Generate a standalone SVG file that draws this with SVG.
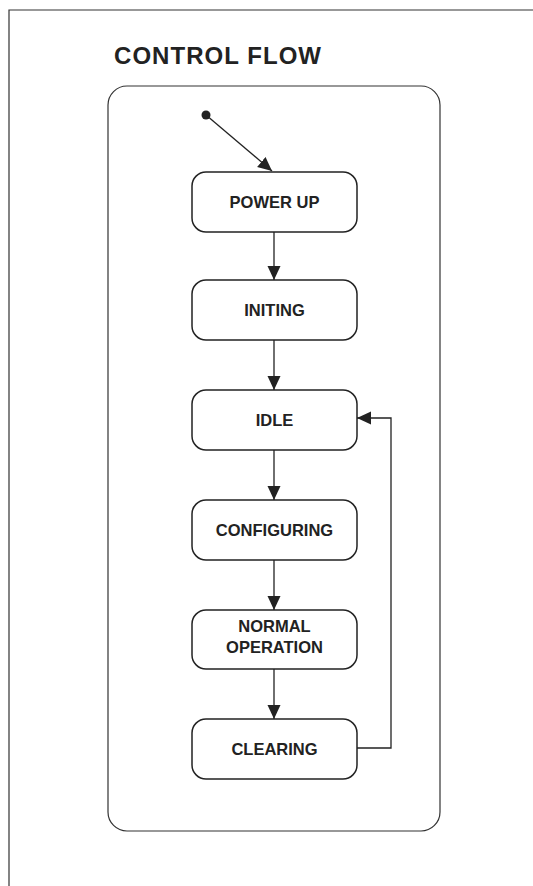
<svg xmlns="http://www.w3.org/2000/svg" width="533" height="886" viewBox="0 0 533 886">
<style>
.frame{fill:none;stroke:#333;stroke-width:1.2}
.box{fill:#fff;stroke:#222;stroke-width:1.5}
.lbl{font-family:"Liberation Sans",Arial,sans-serif;font-weight:bold;font-size:16.5px;fill:#222;text-anchor:middle}
.title{font-family:"Liberation Sans",Arial,sans-serif;font-weight:bold;font-size:24px;fill:#222}
.edge{fill:none;stroke:#222;stroke-width:1.3}
</style>
<defs>
<marker id="ah" markerUnits="userSpaceOnUse" markerWidth="15" markerHeight="14" viewBox="0 0 15 14" refX="14" refY="7" orient="auto">
<path d="M0,0.5 L14,7 L0,13.5 Z" fill="#222"/>
</marker>
</defs>
<rect x="0" y="0" width="533" height="886" fill="#fff"/>
<g id="frame">
<path class="frame" d="M9,886 L9,10 L533,10"/>
</g>
<g id="title"><text class="title" x="114" y="64" textLength="207" lengthAdjust="spacing">CONTROL FLOW</text></g>
<g id="container"><rect class="frame" x="108" y="86" width="332" height="745" rx="19" stroke-width="1.4"/></g>
<g id="connectors">
<circle cx="206" cy="115" r="4.5" fill="#222"/>
<line class="edge" x1="206" y1="115" x2="272" y2="171" marker-end="url(#ah)"/>
<line class="edge" x1="274" y1="232" x2="274" y2="280" marker-end="url(#ah)"/>
<line class="edge" x1="274" y1="340" x2="274" y2="390" marker-end="url(#ah)"/>
<line class="edge" x1="274" y1="450" x2="274" y2="500" marker-end="url(#ah)"/>
<line class="edge" x1="274" y1="560" x2="274" y2="610" marker-end="url(#ah)"/>
<line class="edge" x1="274" y1="669" x2="274" y2="719" marker-end="url(#ah)"/>
<path class="edge" d="M357,748 L391,748 L391,418 L357,418" marker-end="url(#ah)"/>
</g>
<g id="power-up"><rect class="box" x="192" y="172" width="165" height="60" rx="14"/><text class="lbl" x="274.5" y="208">POWER UP</text></g>
<g id="initing"><rect class="box" x="192" y="280" width="165" height="60" rx="14"/><text class="lbl" x="274.5" y="316">INITING</text></g>
<g id="idle"><rect class="box" x="192" y="390" width="165" height="60" rx="14"/><text class="lbl" x="274.5" y="426">IDLE</text></g>
<g id="configuring"><rect class="box" x="192" y="500" width="165" height="60" rx="14"/><text class="lbl" x="274.5" y="536">CONFIGURING</text></g>
<g id="normal-operation"><rect class="box" x="192" y="610" width="165" height="59" rx="14"/><text class="lbl" x="274.5" y="632">NORMAL</text><text class="lbl" x="274.5" y="653">OPERATION</text></g>
<g id="clearing"><rect class="box" x="192" y="719" width="165" height="60" rx="14"/><text class="lbl" x="274.5" y="755">CLEARING</text></g>
</svg>
